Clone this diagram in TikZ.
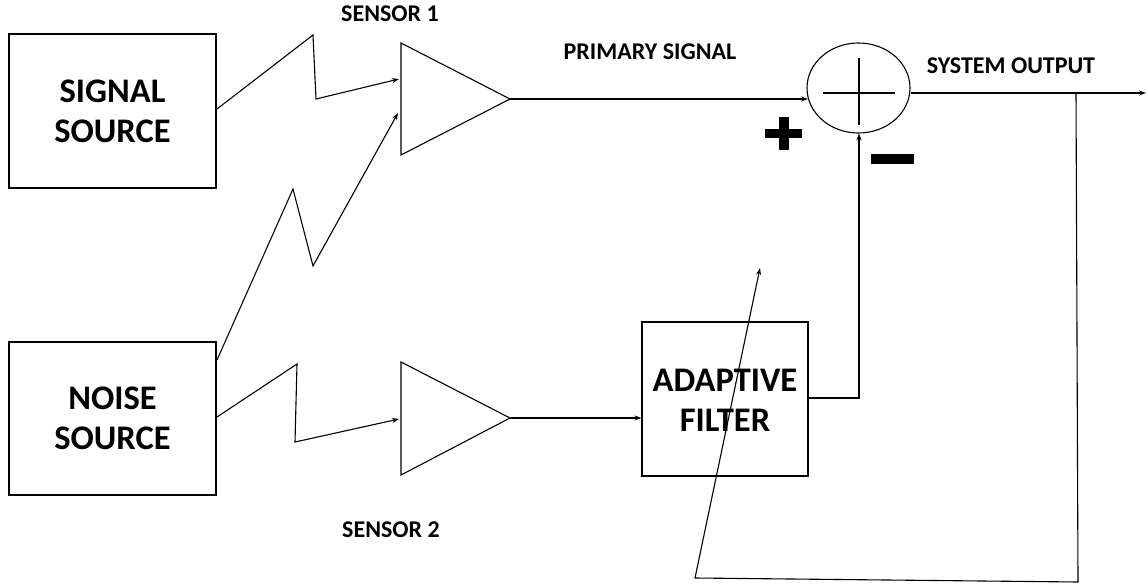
\documentclass[tikz,border=0pt]{standalone}
\usepackage{fontspec}
\setmainfont{Carlito}
\usetikzlibrary{arrows.meta,shapes.geometric}
\tikzset{
  wire/.style={line width=1.1pt, line join=miter},
  arr/.style={wire, -{Stealth[length=7pt,width=5pt]}},
  blk/.style={draw, line width=1.1pt, inner sep=0pt},
  bigtxt/.style={font=\fontsize{34.5}{40}\selectfont\bfseries, align=center},
  lbl/.style={font=\fontsize{24}{26}\selectfont\bfseries, inner sep=0pt},
}
\begin{document}
\begin{tikzpicture}[x=1pt,y=-1pt]
\useasboundingbox (0,0) rectangle (1148,585);
% source boxes
\node[blk, minimum width=207pt, minimum height=154pt] (sig) at (112.5,111) {};
\node[bigtxt] (sigtxt) at (112.5,111) {SIGNAL\\SOURCE};
\node[blk, minimum width=207pt, minimum height=153pt] (noi) at (112.5,418.5) {};
\node[bigtxt] (noitxt) at (112.5,418.5) {NOISE\\SOURCE};
% adaptive filter
\node[blk, minimum width=166pt, minimum height=154pt] (af) at (725,399) {};
\node[bigtxt] (aftxt) at (725,400) {ADAPTIVE\\FILTER};
% amplifier triangles
\coordinate (a1t) at (401,43); \coordinate (a1b) at (401,155); \coordinate (a1o) at (510,99);
\draw[wire] (a1t) -- (a1o) -- (a1b) -- cycle;
\coordinate (a2t) at (401,362); \coordinate (a2b) at (401,475); \coordinate (a2o) at (510,418);
\draw[wire] (a2t) -- (a2o) -- (a2b) -- cycle;
% summing junction
\node[draw, ellipse, line width=1.1pt, minimum width=103pt, minimum height=90pt, inner sep=0pt] (sum) at (858.5,88) {};
\coordinate (ch1) at (823,93); \coordinate (ch2) at (895,93);
\coordinate (cv1) at (859,58); \coordinate (cv2) at (859,125);
\draw[line width=1.2pt] (ch1) -- (ch2);
\draw[line width=2.4pt] (cv1) -- (cv2);
% sensor 1 zigzags
\coordinate (z1a) at (217,109); \coordinate (z1b) at (313,35); \coordinate (z1c) at (316,99); \coordinate (z1d) at (399,79);
\draw[arr] (z1a) -- (z1b) -- (z1c) -- (z1d);
\coordinate (z2a) at (217,360); \coordinate (z2b) at (293,189); \coordinate (z2c) at (313,266); \coordinate (z2d) at (398,113);
\draw[arr] (z2a) -- (z2b) -- (z2c) -- (z2d);
% sensor 2 zigzag
\coordinate (z3a) at (217,417); \coordinate (z3b) at (297,364); \coordinate (z3c) at (295,442); \coordinate (z3d) at (399,419);
\draw[arr] (z3a) -- (z3b) -- (z3c) -- (z3d);
% primary signal
\coordinate (p1) at (808,99);
\draw[arr] (a1o) -- (p1);
% sensor 2 to filter
\draw[arr] (a2o) -- (af.west |- a2o);
% filter to sum
\coordinate (fo) at (859,398);
\coordinate (fin) at (859,133.5);
\draw[arr] (af.east |- fo) -- (fo) -- (fin);
% output
\coordinate (outend) at (1146,93);
\coordinate (br) at (1076,93);
\draw[arr] (sum.east |- outend) -- (outend);
% feedback adaptation line
\coordinate (fb1) at (1078,582); \coordinate (fb2) at (695,578); \coordinate (fb3) at (760,268);
\draw[arr] (br) -- (fb1) -- (fb2) -- (fb3);
% labels
\node[lbl] (s1) at (390,14) {SENSOR 1};
\node[lbl] (s2) at (391,530) {SENSOR 2};
\node[lbl] (ps) at (650,52) {PRIMARY SIGNAL};
\node[lbl] (so) at (1011,66) {SYSTEM OUTPUT};
% plus and minus signs
\fill (765,129) rectangle (802,138);
\fill (778.5,117) rectangle (788.5,150);
\fill (871,154) rectangle (914,164);
\end{tikzpicture}
\end{document}
